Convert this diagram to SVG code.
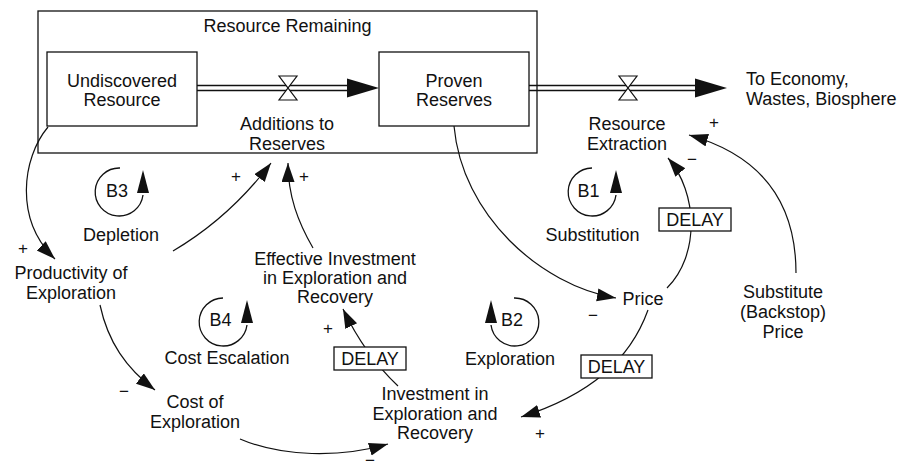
<svg xmlns="http://www.w3.org/2000/svg" width="910" height="470" viewBox="0 0 910 470">
<style>
text{font-family:"Liberation Sans",Arial,Helvetica,sans-serif;font-size:18px;fill:#111;text-anchor:middle}
.sign{font-size:17px}
.box{fill:#fff;stroke:#111;stroke-width:1.3}
.frame{fill:none;stroke:#111;stroke-width:1.3}
.link{fill:none;stroke:#111;stroke-width:1.2}
.pipe{stroke:#111;stroke-width:1.3;fill:none}
.valve{fill:#fff;stroke:#111;stroke-width:1.2}
.head{fill:#111;stroke:none}
.loop{fill:none;stroke:#111;stroke-width:1.3}
</style>
<defs>
<marker id="arr" markerUnits="userSpaceOnUse" markerWidth="20" markerHeight="14" refX="19" refY="6.5" orient="auto" viewBox="0 0 20 14">
<path d="M0,0 L19,6.5 L0,13 Z" fill="#111"/>
</marker>
</defs>

<g id="resource-remaining">
<rect class="frame" x="38" y="11" width="499" height="142"/>
<text x="287.5" y="31.5">Resource Remaining</text>
</g>

<g id="flows">
<line class="pipe" x1="197" y1="85.5" x2="350" y2="85.5"/>
<line class="pipe" x1="197" y1="90.5" x2="350" y2="90.5"/>
<polygon class="head" points="347,78.5 379,88 347,97.5"/>
<line class="pipe" x1="529" y1="85.5" x2="698" y2="85.5"/>
<line class="pipe" x1="529" y1="90.5" x2="698" y2="90.5"/>
<polygon class="head" points="695,78.5 727,88 695,97.5"/>
</g>

<g id="undiscovered-resource">
<rect class="box" x="47" y="52" width="150" height="74"/>
<text x="122" y="86.5">Undiscovered</text>
<text x="122" y="106">Resource</text>
</g>

<g id="proven-reserves">
<rect class="box" x="379" y="52" width="150" height="74"/>
<text x="454" y="86.5">Proven</text>
<text x="454" y="106">Reserves</text>
</g>

<g id="additions-to-reserves">
<path class="valve" d="M279,76 L297,76 L279,100 L297,100 Z"/>
<text x="287" y="130">Additions to</text>
<text x="287" y="149.5">Reserves</text>
</g>

<g id="resource-extraction">
<path class="valve" d="M619,76 L637,76 L619,100 L637,100 Z"/>
<text x="627" y="130">Resource</text>
<text x="627" y="149.5">Extraction</text>
</g>

<g id="to-economy">
<text x="746" y="85" style="text-anchor:start">To Economy,</text>
<text x="746" y="105" style="text-anchor:start">Wastes, Biosphere</text>
</g>

<g id="connectors">
<path class="link" d="M48,127 C22,158 14,220 55,259" marker-end="url(#arr)"/>
<path class="link" d="M173,251 C212,228 246,196 271,163" marker-end="url(#arr)"/>
<path class="link" d="M313,248 C298,222 288,196 288,163" marker-end="url(#arr)"/>
<path class="link" d="M100,305 C108,342 126,368 155,390" marker-end="url(#arr)"/>
<path class="link" d="M240,439 C282,457 340,458 388,444" marker-end="url(#arr)"/>
<path class="link" d="M398,386 Q365,355 343,309" marker-end="url(#arr)"/>
<path class="link" d="M454,126 C462,215 540,285 616,298" marker-end="url(#arr)"/>
<path class="link" d="M667,288 C700,255 698,193 668,158" marker-end="url(#arr)"/>
<path class="link" d="M796,273 C796,200 760,155 689,135" marker-end="url(#arr)"/>
<path class="link" d="M648,310 C630,360 590,395 521,417" marker-end="url(#arr)"/>
</g>

<g id="delay-investment">
<rect class="box" x="334" y="347" width="72" height="23"/>
<text x="370" y="365">DELAY</text>
</g>
<g id="delay-extraction">
<rect class="box" x="659" y="208" width="72" height="23"/>
<text x="695" y="226">DELAY</text>
</g>
<g id="delay-price">
<rect class="box" x="581" y="355" width="71" height="23"/>
<text x="616.5" y="373">DELAY</text>
</g>

<g id="signs">
<text class="sign" x="236" y="182">+</text>
<text class="sign" x="304" y="182">+</text>
<text class="sign" x="23" y="254">+</text>
<text class="sign" x="124" y="397">−</text>
<text class="sign" x="328" y="334">+</text>
<text class="sign" x="370" y="466">−</text>
<text class="sign" x="714" y="128">+</text>
<text class="sign" x="692" y="165">−</text>
<text class="sign" x="593" y="321">−</text>
<text class="sign" x="540" y="439">+</text>
</g>

<g id="productivity-of-exploration">
<text x="71" y="279">Productivity of</text>
<text x="71" y="299">Exploration</text>
</g>
<g id="cost-of-exploration">
<text x="195" y="408">Cost of</text>
<text x="195" y="427.5">Exploration</text>
</g>
<g id="effective-investment">
<text x="335" y="265">Effective Investment</text>
<text x="335" y="284">in Exploration and</text>
<text x="335" y="303">Recovery</text>
</g>
<g id="investment">
<text x="435" y="400">Investment in</text>
<text x="435" y="419.5">Exploration and</text>
<text x="435" y="439">Recovery</text>
</g>
<g id="price">
<text x="643" y="305">Price</text>
</g>
<g id="substitute-price">
<text x="783" y="298">Substitute</text>
<text x="783" y="318">(Backstop)</text>
<text x="783" y="337.5">Price</text>
</g>

<g id="loop-b3">
<path class="loop" d="M120,168 A24,24 0 1 0 143,195"/>
<polygon class="head" points="137,193 149,193 143,170"/>
<text x="117" y="197">B3</text>
<text x="121" y="240.5">Depletion</text>
</g>
<g id="loop-b1">
<path class="loop" d="M592,168 A24,24 0 1 0 616,195"/>
<polygon class="head" points="610,193 622,193 616,170"/>
<text x="588.5" y="197">B1</text>
<text x="592.5" y="241">Substitution</text>
</g>
<g id="loop-b4">
<path class="loop" d="M223,298 A24,24 0 1 0 247,325"/>
<polygon class="head" points="241,323 253,323 247,300"/>
<text x="220.5" y="326">B4</text>
<text x="227" y="364">Cost Escalation</text>
</g>
<g id="loop-b2">
<path class="loop" d="M514,298 A24,24 0 1 1 491,325"/>
<polygon class="head" points="485,323 497,323 491,300"/>
<text x="512" y="326">B2</text>
<text x="510" y="364.5">Exploration</text>
</g>
</svg>
